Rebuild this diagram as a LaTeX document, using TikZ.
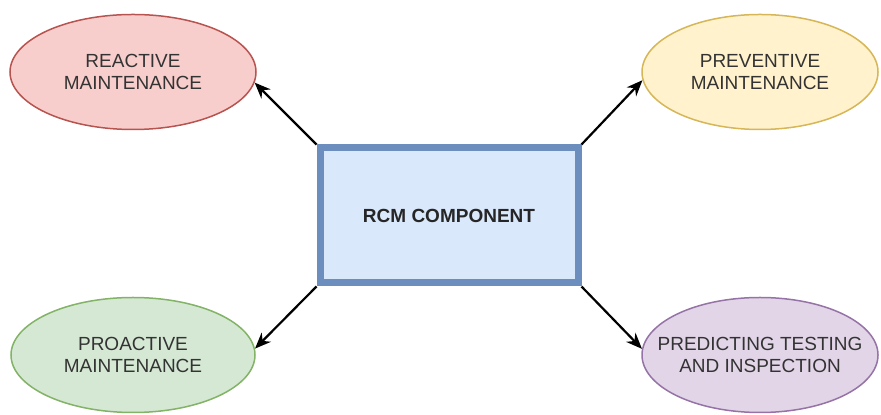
\documentclass[tikz,border=0pt]{standalone}
\usepackage{fontspec}
\setmainfont{Liberation Sans}
\usepackage{xcolor}
\usetikzlibrary{shapes.geometric,arrows.meta}

\definecolor{redfill}{HTML}{F8CECC}
\definecolor{reddraw}{HTML}{B85450}
\definecolor{yellowfill}{HTML}{FFF2CC}
\definecolor{yellowdraw}{HTML}{D6B656}
\definecolor{greenfill}{HTML}{D5E8D4}
\definecolor{greendraw}{HTML}{82B366}
\definecolor{purplefill}{HTML}{E1D5E7}
\definecolor{purpledraw}{HTML}{9673A6}
\definecolor{bluefill}{HTML}{DAE8FC}
\definecolor{bluedraw}{HTML}{6C8EBF}

\tikzset{
  kind/.style={draw, ellipse, line width=0.75pt, minimum width=118pt, minimum height=57.5pt,
    inner xsep=-15pt, inner ysep=0pt, align=center, text=black!80, font=\fontsize{9.5}{11}\selectfont},
  link/.style={-{Stealth[length=8pt,width=6.5pt]}, line width=1.1pt, black}
}

\begin{document}
\begin{tikzpicture}[x=0.5pt, y=-0.5pt]
  \useasboundingbox (0,0) rectangle (881,415);

  \node[draw=bluedraw, fill=bluefill, line width=3.5pt, minimum width=129pt, minimum height=67.5pt,
    font=\fontsize{9.5}{11}\selectfont\bfseries, text=black!85] (rcm) at (449,215.5) {RCM COMPONENT};

  \node[kind, draw=reddraw, fill=redfill, minimum width=123pt] (reactive) at (133,72) {REACTIVE\\MAINTENANCE};
  \node[kind, draw=yellowdraw, fill=yellowfill] (preventive) at (760,72) {PREVENTIVE\\MAINTENANCE};
  \node[kind, draw=greendraw, fill=greenfill, minimum width=122pt] (proactive) at (133,355) {PROACTIVE\\MAINTENANCE};
  \node[kind, draw=purpledraw, fill=purplefill] (predicting) at (760,355) {PREDICTING TESTING\\AND INSPECTION};

  \draw[link] (rcm.north west) -- (reactive.-5);
  \draw[link] (rcm.north east) -- (preventive.184);
  \draw[link] (rcm.south west) -- (proactive.3);
  \draw[link] (rcm.south east) -- (predicting.177);
\end{tikzpicture}
\end{document}
